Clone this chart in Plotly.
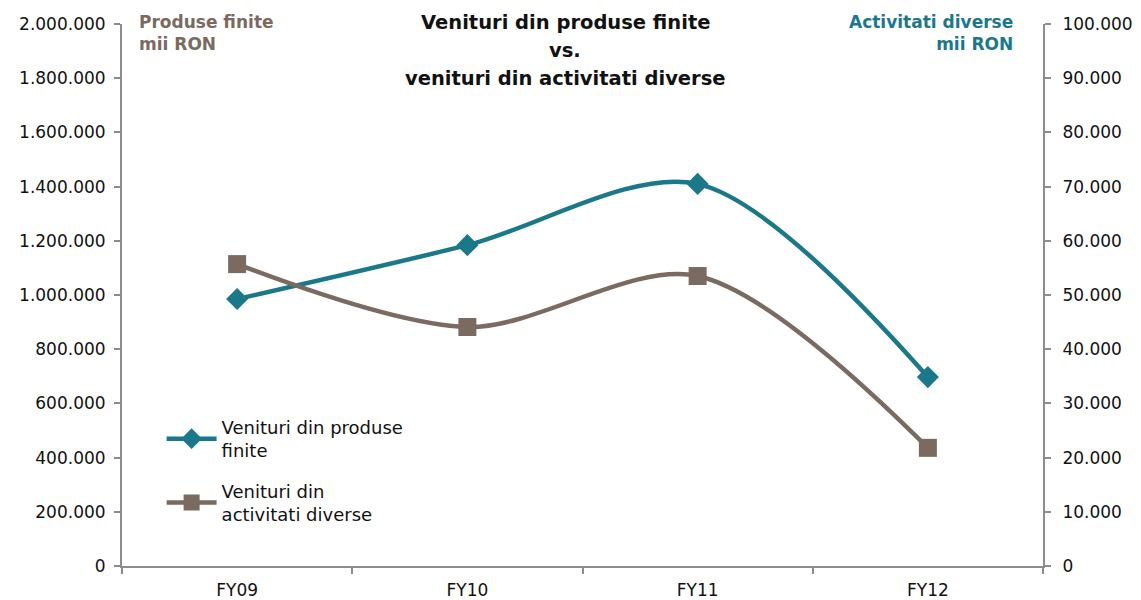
import plotly.graph_objects as go

# Fiscal years and revenue series (thousand RON)
years = ["FY09", "FY10", "FY11", "FY12"]
produse_finite = [985000, 1184000, 1410000, 697000]      # left axis
activitati_diverse = [55700, 44100, 53500, 21800]        # right axis

left_ticks = list(range(0, 2000001, 200000))
right_ticks = list(range(0, 100001, 10000))

title_lines = ["Venituri din produse finite", "vs.", "venituri din activitati diverse"]

TEAL = "#1B788A"
BROWN = "#7A6A60"
AXIS = "#8C8C8C"
FONT = "DejaVu Sans, sans-serif"

fig = go.Figure()
fig.add_trace(go.Scatter(
    x=years, y=produse_finite, name="Venituri din produse<br>finite",
    legendgroup="pf",
    mode="lines+markers", line=dict(color=TEAL, width=4.5, shape="spline", smoothing=0.9),
    marker=dict(symbol="diamond", size=17, color=TEAL), yaxis="y",
))
fig.add_trace(go.Scatter(
    x=years, y=activitati_diverse, name="Venituri din<br>activitati diverse",
    legendgroup="ad",
    mode="lines+markers", line=dict(color=BROWN, width=4.5, shape="spline", smoothing=0.9),
    marker=dict(symbol="square", size=18, color=BROWN), yaxis="y2",
))

axis_common = dict(showline=True, linecolor=AXIS, linewidth=2, ticks="outside",
                   ticklen=6, tickcolor=AXIS, tickwidth=2, showgrid=False,
                   zeroline=False, automargin=False, tickfont=dict(size=17))

# Chart title, one annotation per line for wider line spacing
title_y = [1.002, 0.951, 0.900]
annotations = [
    dict(text=f"<b>{t}</b>", xref="paper", yref="paper", x=0.481, y=yy,
         xanchor="center", yanchor="middle", showarrow=False,
         font=dict(size=19.5, color="#111111"))
    for t, yy in zip(title_lines, title_y)
]
annotations += [
    dict(text="<b>Produse finite<br>mii RON</b>", xref="paper", yref="paper",
         x=0.016, y=1.025, xanchor="left", yanchor="top", showarrow=False,
         font=dict(size=17, color=BROWN), align="left"),
    dict(text="<b>Activitati diverse<br>mii RON</b>", xref="paper", yref="paper",
         x=0.97, y=1.025, xanchor="right", yanchor="top", showarrow=False,
         font=dict(size=17, color=TEAL), align="right"),
]

fig.update_layout(
    width=1141, height=600,
    margin=dict(l=122, r=98, t=24, b=34),
    paper_bgcolor="white", plot_bgcolor="white",
    separators=",.",
    font=dict(family=FONT, size=17, color="#111111"),
    showlegend=True,
    legend=dict(x=0.043, y=0.29, xanchor="left", yanchor="top", itemwidth=50,
                traceorder="grouped", tracegroupgap=14,
                font=dict(size=18), bgcolor="rgba(0,0,0,0)"),
    xaxis=dict(range=[-0.5, 3.5], tickson="boundaries", ticklabelstandoff=8, **axis_common),
    yaxis=dict(range=[0, 2000000], tickvals=left_ticks, tickformat=",d",
               ticklabelstandoff=5, **axis_common),
    yaxis2=dict(range=[0, 100000], tickvals=right_ticks, tickformat=",d",
                overlaying="y", side="right", ticklabelstandoff=8, **axis_common),
    annotations=annotations,
)

fig.write_html("out.html")
